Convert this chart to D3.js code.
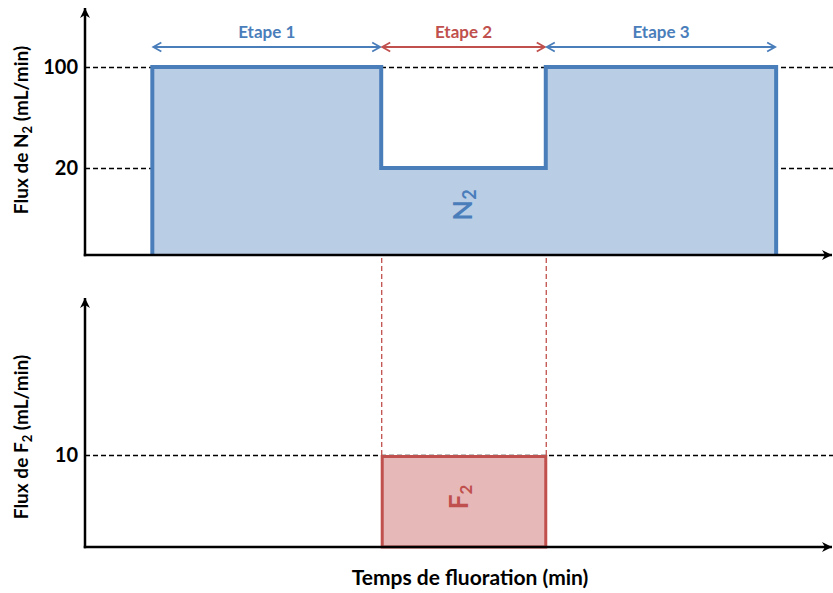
<!DOCTYPE html>
<html>
<head>
<meta charset="utf-8">
<script src="https://cdn.jsdelivr.net/npm/d3@7"></script>
<style>
  body { margin: 0; background: #fff; }
  svg text { font-family: Lato, "Open Sans", sans-serif; font-weight: bold; }
</style>
</head>
<body>
<div id="chart"></div>
<script>
// schematic data (time in arbitrary minutes)
const stageNames = ["Etape 1", "Etape 2", "Etape 3"];
const stageStart = [9, 39.6, 61.6];
const stageEnd = [39.6, 61.6, 92.4];
const n2Flow = [100, 20, 100];
const f2Flow = [0, 10, 0];
const n2Ticks = [20, 100];
const f2Ticks = [10];

const width = 833, height = 593;
const blue = "#4a7ebb", blueFill = "#b9cde5";
const red = "#c0504d", redFill = "#e6b9b8";

const svg = d3.select("#chart").append("svg")
  .attr("width", width)
  .attr("height", height);

const defs = svg.append("defs");
defs.append("marker")
  .attr("id", "axisArrow")
  .attr("viewBox", "-11 -6 12 12")
  .attr("refX", 0).attr("refY", 0)
  .attr("markerWidth", 12).attr("markerHeight", 12)
  .attr("markerUnits", "userSpaceOnUse")
  .attr("orient", "auto")
  .append("path")
  .attr("d", "M0,0 L-10,-5 L-7,0 L-10,5 Z")
  .attr("fill", "#000");

[["blue", blue], ["red", red]].forEach(([name, col]) => {
  defs.append("marker")
    .attr("id", "stage-" + name)
    .attr("viewBox", "-10 -6 12 12")
    .attr("refX", 0).attr("refY", 0)
    .attr("markerWidth", 12).attr("markerHeight", 12)
    .attr("markerUnits", "userSpaceOnUse")
    .attr("orient", "auto-start-reverse")
    .append("path")
    .attr("d", "M-8,-4.5 L0,0 L-8,4.5")
    .attr("fill", "none")
    .attr("stroke", col)
    .attr("stroke-width", 1.8);
});

const x = d3.scaleLinear().domain([0, 100]).range([85, 833]);
// non-linear schematic axis
const yTop = d3.scaleLinear().domain([0, 20, 100]).range([255, 168, 67]);
const yBot = d3.scaleLinear().domain([0, 10]).range([547, 455]);

function panel(yScale, ticks) {
  const g = svg.append("g");
  g.selectAll(".grid")
    .data(ticks)
    .join("line")
    .attr("x1", x(0)).attr("x2", width)
    .attr("y1", d => yScale(d) + 0.5).attr("y2", d => yScale(d) + 0.5)
    .attr("stroke", "#000")
    .attr("stroke-width", 1.3)
    .attr("stroke-dasharray", "5,3");

  const axis = d3.axisLeft(yScale).tickValues(ticks).tickSize(0).tickPadding(7);
  g.append("g")
    .attr("transform", `translate(${x(0)},0)`)
    .call(axis)
    .call(a => a.select(".domain").remove())
    .selectAll("text")
    .attr("font-size", 20)
    .attr("fill", "#000");
  return g;
}

panel(yTop, n2Ticks);
panel(yBot, f2Ticks);

// N2 step area
const n2Points = [];
stageStart.forEach((s, i) => {
  n2Points.push([s, n2Flow[i]]);
  n2Points.push([stageEnd[i], n2Flow[i]]);
});
const n2Path = [[stageStart[0], 0], ...n2Points, [stageEnd[2], 0]];
svg.append("path")
  .attr("d", d3.line().x(d => x(d[0])).y(d => yTop(d[1]))(n2Path))
  .attr("fill", blueFill)
  .attr("stroke", blue)
  .attr("stroke-width", 4)
  .attr("stroke-linejoin", "miter");

svg.append("text")
  .attr("transform", `translate(${x((stageStart[1] + stageEnd[1]) / 2) + 9},${205}) rotate(-90)`)
  .attr("text-anchor", "middle")
  .attr("fill", blue)
  .attr("font-size", 27)
  .call(t => {
    t.append("tspan").text("N");
    t.append("tspan").attr("dy", 4).attr("font-size", 18).text("2");
  });

// red dashed guides
[stageStart[1], stageEnd[1]].forEach(t => {
  svg.append("line")
    .attr("x1", x(t) + 0.5).attr("x2", x(t) + 0.5)
    .attr("y1", 258).attr("y2", yBot(10))
    .attr("stroke", red)
    .attr("stroke-width", 1.3)
    .attr("stroke-dasharray", "5,3");
});

// F2 rectangles
f2Flow.forEach((v, i) => {
  if (!v) return;
  svg.append("rect")
    .attr("x", x(stageStart[i]) + 1)
    .attr("y", yBot(v) + 1.5)
    .attr("width", x(stageEnd[i]) - x(stageStart[i]) - 1)
    .attr("height", yBot(0) - yBot(v) - 1.5)
    .attr("fill", redFill)
    .attr("stroke", red)
    .attr("stroke-width", 3);
  svg.append("text")
    .attr("transform", `translate(${x((stageStart[i] + stageEnd[i]) / 2) + 5},${497}) rotate(-90)`)
    .attr("text-anchor", "middle")
    .attr("fill", red)
    .attr("font-size", 26)
    .call(t => {
      t.append("tspan").text("F");
      t.append("tspan").attr("dy", 4).attr("font-size", 17).text("2");
    });
});

// axes lines with arrows
function axes(y0, yEnd) {
  svg.append("line")
    .attr("x1", x(0)).attr("x2", x(0))
    .attr("y1", y0 + 1.25).attr("y2", yEnd)
    .attr("stroke", "#000").attr("stroke-width", 2.5)
    .attr("marker-end", "url(#axisArrow)");
  svg.append("line")
    .attr("x1", x(0) - 1.25).attr("x2", width - 1)
    .attr("y1", y0).attr("y2", y0)
    .attr("stroke", "#000").attr("stroke-width", 2.5)
    .attr("marker-end", "url(#axisArrow)");
}
axes(yTop(0), 8);
axes(yBot(0), 298);

// stage arrows
stageNames.forEach((name, i) => {
  const col = i === 1 ? red : blue;
  const mk = i === 1 ? "red" : "blue";
  svg.append("line")
    .attr("x1", x(stageStart[i]) + 1).attr("x2", x(stageEnd[i]) - 1)
    .attr("y1", 47).attr("y2", 47)
    .attr("stroke", col).attr("stroke-width", 1.8)
    .attr("marker-start", `url(#stage-${mk})`)
    .attr("marker-end", `url(#stage-${mk})`);
  svg.append("text")
    .attr("x", (x(stageStart[i]) + x(stageEnd[i])) / 2)
    .attr("y", 38)
    .attr("text-anchor", "middle")
    .attr("fill", col)
    .attr("font-size", 17)
    .text(name);
});

// axis titles
function yTitle(cy, sym) {
  svg.append("text")
    .attr("transform", `translate(28,${cy}) rotate(-90)`)
    .attr("text-anchor", "middle")
    .attr("font-size", 19)
    .attr("fill", "#000")
    .call(t => {
      t.append("tspan").text("Flux de " + sym);
      t.append("tspan").attr("dy", 4).attr("font-size", 13).text("2");
      t.append("tspan").attr("dy", -4).text(" (mL/min)");
    });
}
yTitle(130, "N");
yTitle(437, "F");

svg.append("text")
  .attr("x", 470)
  .attr("y", 585)
  .attr("text-anchor", "middle")
  .attr("font-size", 21)
  .attr("fill", "#000")
  .text("Temps de fluoration (min)");
</script>
</body>
</html>
